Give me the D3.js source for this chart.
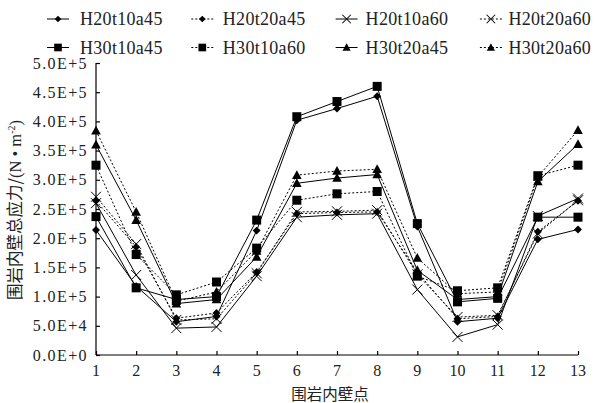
<!DOCTYPE html>
<html>
<head>
<meta charset="utf-8">
<script src="https://cdnjs.cloudflare.com/ajax/libs/d3/7.8.5/d3.min.js"></script>
<style>
	html, body { margin: 0; padding: 0; background: #fff; }
	svg { display: block; }
</style>
</head>
<body>
<svg id="chart" width="596" height="403"></svg>
<script>
"use strict";

// wall points on the x axis
var points = [1, 2, 3, 4, 5, 6, 7, 8, 9, 10, 11, 12, 13];

// total stress, in units of 1e5 N/m^2
var H20t10a45 = [2.14, 1.18, 0.57, 0.66, 2.13, 4.02, 4.22, 4.43, 2.20, 0.57, 0.63, 1.98, 2.15];
var H20t20a45 = [2.64, 1.85, 0.63, 0.72, 1.42, 2.42, 2.44, 2.45, 1.42, 0.62, 0.66, 2.11, 2.64];
var H20t10a60 = [2.60, 1.37, 0.46, 0.48, 1.35, 2.36, 2.40, 2.42, 1.12, 0.31, 0.52, 2.38, 2.68];
var H20t20a60 = [2.71, 1.90, 0.60, 0.62, 1.40, 2.45, 2.46, 2.48, 1.38, 0.65, 0.68, 2.08, 2.65];
var H30t10a45 = [2.37, 1.15, 0.95, 1.00, 2.31, 4.08, 4.34, 4.60, 2.25, 0.91, 0.97, 2.36, 2.36];
var H30t10a60 = [3.25, 1.72, 1.03, 1.25, 1.83, 2.65, 2.76, 2.80, 1.35, 1.10, 1.15, 3.07, 3.25];
var H30t20a45 = [3.60, 2.31, 0.88, 0.95, 1.68, 2.94, 3.03, 3.09, 1.45, 0.95, 1.00, 2.97, 3.61];
var H30t20a60 = [3.84, 2.45, 0.92, 1.08, 1.78, 3.08, 3.15, 3.18, 1.66, 1.05, 1.08, 3.05, 3.85];

var yTicks = [0, 0.5, 1, 1.5, 2, 2.5, 3, 3.5, 4, 4.5, 5];

var series = [
	{name: "H20t10a45", values: H20t10a45, marker: "diamond", dashed: false},
	{name: "H20t20a45", values: H20t20a45, marker: "diamond", dashed: true},
	{name: "H20t10a60", values: H20t10a60, marker: "cross", dashed: false},
	{name: "H20t20a60", values: H20t20a60, marker: "cross", dashed: true},
	{name: "H30t10a45", values: H30t10a45, marker: "square", dashed: false},
	{name: "H30t10a60", values: H30t10a60, marker: "square", dashed: true},
	{name: "H30t20a45", values: H30t20a45, marker: "triangle", dashed: false},
	{name: "H30t20a60", values: H30t20a60, marker: "triangle", dashed: true}
];

var LATIN = "'Liberation Serif', 'Times New Roman', 'DejaVu Serif', serif";
var CJK = "'Noto Sans CJK SC', sans-serif";

var svg = d3.select("#chart");
var plot = {left: 96, right: 578, top: 63, bottom: 355};

var x = d3.scalePoint().domain(points).range([plot.left, plot.right]).padding(0);
var y = d3.scaleLinear().domain([0, 5]).range([plot.bottom, plot.top]);

// 2.5 -> "2.5E+5", 0.5 -> "5.0E+4"
function sci(v) {
	if (v === 0) return "0.0E+0";
	var n = v * 1e5;
	var e = Math.floor(Math.log10(n) + 1e-9);
	return (n / Math.pow(10, e)).toFixed(1) + "E+" + e;
}

// series lines
var line = d3.line()
	.x(function(d, i) { return x(points[i]); })
	.y(function(d) { return y(d); });

svg.append("g").selectAll("path")
	.data(series)
	.join("path")
	.attr("d", function(s) { return line(s.values); })
	.attr("fill", "none")
	.attr("stroke", "#000")
	.attr("stroke-width", 1)
	.attr("stroke-dasharray", function(s) { return s.dashed ? "2,2" : null; });

function drawMarker(g, type, scale) {
	var k = scale || 1;
	if (type === "diamond") {
		g.append("path").attr("d", d3.symbol(d3.symbolDiamond2, 40 * k * k)).attr("fill", "#000");
	} else if (type === "square") {
		g.append("rect").attr("x", -4.5 * k).attr("y", -4.5 * k)
			.attr("width", 9 * k).attr("height", 9 * k).attr("fill", "#000");
	} else if (type === "triangle") {
		g.append("path").attr("d", "M0," + (-5 * k) + "L" + (4.8 * k) + "," + (3.8 * k) + "L" + (-4.8 * k) + "," + (3.8 * k) + "Z")
			.attr("fill", "#000");
	} else {
		g.append("path").attr("d", "M-5,-5L5,5M-5,5L5,-5")
			.attr("transform", "scale(" + k + ")")
			.attr("stroke", "#000").attr("stroke-width", 1 / k).attr("fill", "none");
	}
}

series.forEach(function(s) {
	var gs = svg.append("g");
	s.values.forEach(function(v, i) {
		var m = gs.append("g").attr("transform", "translate(" + x(points[i]) + "," + y(v) + ")");
		drawMarker(m, s.marker, 1);
	});
});

// axes, ticks pointing inward
var yAxis = d3.axisRight(y).tickValues(yTicks).tickSize(4).tickFormat("");
svg.append("g").attr("transform", "translate(" + plot.left + ",0)").call(yAxis)
	.call(function(g) { g.select(".domain").attr("d", "M0," + plot.top + "V" + plot.bottom); });

var xAxis = d3.axisTop(x).tickSize(4).tickFormat("");
svg.append("g").attr("transform", "translate(0," + plot.bottom + ")").call(xAxis)
	.call(function(g) { g.select(".domain").attr("d", "M" + plot.left + ",0H" + plot.right); });

svg.selectAll(".domain, .tick line").attr("stroke", "#000").attr("stroke-width", 1.2);

// tick labels
svg.append("g").selectAll("text")
	.data(yTicks)
	.join("text")
	.attr("font-family", LATIN)
	.attr("x", plot.left - 8)
	.attr("y", function(d) { return y(d) + 5.5; })
	.attr("text-anchor", "end")
	.attr("font-size", 16)
	.attr("letter-spacing", 1.4)
	.attr("fill", "#222")
	.text(sci);

svg.append("g").selectAll("text")
	.data(points)
	.join("text")
	.attr("font-family", LATIN)
	.attr("x", function(d) { return x(d); })
	.attr("y", plot.bottom + 21)
	.attr("text-anchor", "middle")
	.attr("font-size", 16)
	.attr("fill", "#222")
	.text(function(d) { return d; });

// axis titles
svg.append("text")
	.attr("font-family", CJK)
	.attr("x", 330)
	.attr("y", 400)
	.attr("text-anchor", "middle")
	.attr("font-size", 15.5)
	.attr("fill", "#222")
	.text("围岩内壁点");

var yt = svg.append("text")
	.attr("transform", "translate(21,210) rotate(-90)")
	.attr("text-anchor", "middle")
	.attr("font-size", 16.5)
	.attr("fill", "#222");
yt.append("tspan").attr("font-family", CJK).text("围岩内壁总应力/");
yt.append("tspan").attr("font-family", LATIN).text("(N • m");
yt.append("tspan").attr("font-family", LATIN).attr("font-size", 10).attr("dy", -6).text("-2");
yt.append("tspan").attr("font-family", LATIN).attr("dy", 6).text(")");

// legend: two rows of four
var legend = svg.append("g");
series.forEach(function(s, i) {
	var col = i % 4;
	var row = Math.floor(i / 4);
	var lx = 47 + col * 144.3;
	var ly = 19 + row * 28.5;
	var g = legend.append("g").attr("transform", "translate(" + lx + "," + ly + ")");
	g.append("line")
		.attr("x1", 0).attr("x2", 22).attr("y1", 0).attr("y2", 0)
		.attr("stroke", "#000").attr("stroke-width", 1)
		.attr("stroke-dasharray", s.dashed ? "2,2" : null);
	var m = g.append("g").attr("transform", "translate(11,0)");
	drawMarker(m, s.marker, 0.85);
	g.append("text")
		.attr("font-family", LATIN)
		.attr("x", 33 - col * 1.5)
		.attr("y", 6)
		.attr("font-size", 18)
		.attr("letter-spacing", 0.3)
		.attr("fill", "#222")
		.text(s.name);
});
</script>
</body>
</html>
